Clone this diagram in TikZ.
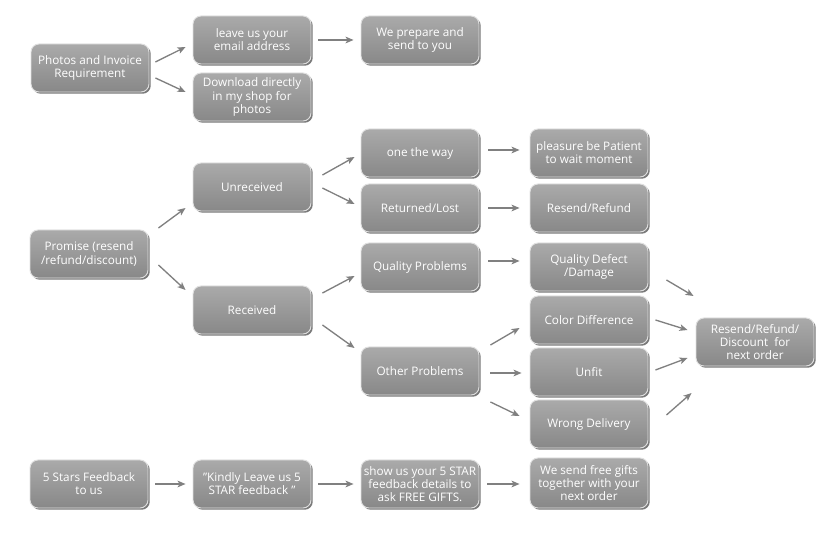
\documentclass[tikz,border=0pt]{standalone}
\usepackage{fontspec}
\setmainfont{Open Sans}
\usetikzlibrary{calc,shadows,arrows.meta}
\definecolor{boxtop}{RGB}{170,170,170}
\definecolor{boxbot}{RGB}{136,136,136}
\definecolor{arrgray}{RGB}{128,128,128}
\newcommand{\sq}{{\char34}}
\tikzset{
  box/.style={rectangle, rounded corners=6pt, minimum width=88.5pt, minimum height=36pt,
    top color=boxtop, bottom color=boxbot, draw=white!88!black, line width=0.7pt,
    text=white, align=center, font=\fontsize{8.8}{9.9}\selectfont, inner sep=1pt,
    drop shadow={shadow xshift=1.3pt, shadow yshift=-1.3pt, fill=black!80, opacity=0.65}},
  arr/.style={draw=arrgray, line width=1pt, -{Stealth[length=6pt,width=5pt,inset=1.5pt]}}
}
\begin{document}
\begin{tikzpicture}[x=0.75pt,y=-0.75pt]
\useasboundingbox[fill=white] (0,0) rectangle (840,541);
% nodes
\node[box] (A) at (90,68) {Photos and Invoice\\Requirement};
\node[box] (leave) at (252,40) {leave us your\\email address};
\node[box] (download) at (252,97) {Download directly\\in my shop for\\photos};
\node[box] (prep) at (420,40) {We prepare and\\send to you};
\node[box] (promise) at (89,254) {Promise (resend\\/refund/discount)};
\node[box] (unrec) at (252,187) {Unreceived};
\node[box] (rec) at (252,310) {Received};
\node[box] (way) at (420,153) {one the way};
\node[box] (lost) at (420,208) {Returned/Lost};
\node[box] (qual) at (420,267) {Quality Problems};
\node[box] (other) at (420,371) {Other Problems};
\node[box] (patient) at (589,153) {pleasure be Patient\\to wait moment};
\node[box] (resend) at (589,208) {Resend/Refund};
\node[box] (defect) at (589,267) {Quality Defect\\/Damage};
\node[box] (color) at (589,320) {Color Difference};
\node[box] (unfit) at (589,372) {Unfit};
\node[box] (wrong) at (589,424) {Wrong Delivery};
\node[box] (rrd) at (755,342) {Resend/Refund/\\Discount\ \ for\\next order};
\node[box] (fb) at (89,484) {5 Stars Feedback\\to us};
\node[box] (kind) at (252,484) {\sq Kindly Leave us 5\\STAR feedback \sq};
\node[box] (show) at (420,484) {show us your 5 STAR\\feedback details to\\ask FREE GIFTS.};
\node[box, minimum height=37.5pt] (gifts) at (589,483) {We send free gifts\\together with your\\next order};
% arrows
\draw[arr] ($(A.east)+(6,-6)$) -- ($(leave.west)+(-7,7)$);
\draw[arr] ($(A.east)+(6,10)$) -- ($(download.west)+(-7,-5)$);
\draw[arr] ($(leave.east)+(7,0)$) -- ($(prep.west)+(-7,0)$);
\draw[arr] ($(promise.east)+(10,-26)$) -- ($(unrec.west)+(-7,21)$);
\draw[arr] ($(promise.east)+(10,11)$) -- ($(rec.west)+(-7,-20)$);
\draw[arr] ($(unrec.east)+(11,-12)$) -- ($(way.west)+(-6,4)$);
\draw[arr] ($(unrec.east)+(11,1)$) -- ($(lost.west)+(-6,-4)$);
\draw[arr] ($(rec.east)+(11,-17)$) -- ($(qual.west)+(-6,9)$);
\draw[arr] ($(rec.east)+(11,15)$) -- ($(other.west)+(-6,-23)$);
\draw[arr] ($(way.east)+(9,-3)$) -- ($(patient.west)+(-10,-3)$);
\draw[arr] ($(lost.east)+(9,0)$) -- ($(resend.west)+(-10,0)$);
\draw[arr] ($(qual.east)+(9,-6)$) -- ($(defect.west)+(-10,-6)$);
\draw[arr] ($(other.east)+(11,-26)$) -- ($(color.west)+(-10,8)$);
\draw[arr] ($(other.east)+(11,2)$) -- ($(unfit.west)+(-8,1)$);
\draw[arr] ($(other.east)+(11,31)$) -- ($(wrong.west)+(-10,-8)$);
\draw[arr] ($(defect.east)+(18,13)$) -- ($(rrd.west)+(-2,-46)$);
\draw[arr] ($(color.east)+(7,0)$) -- ($(rrd.west)+(-8,-12)$);
\draw[arr] ($(unfit.east)+(7,-2)$) -- ($(rrd.west)+(-8,16)$);
\draw[arr] ($(wrong.east)+(18,-9)$) -- ($(rrd.west)+(-4,51)$);
\draw[arr] ($(fb.east)+(7,0)$) -- ($(kind.west)+(-7,0)$);
\draw[arr] ($(kind.east)+(7,0)$) -- ($(show.west)+(-7,0)$);
\draw[arr] ($(show.east)+(8,0)$) -- ($(gifts.west)+(-10,1)$);
\end{tikzpicture}
\end{document}
